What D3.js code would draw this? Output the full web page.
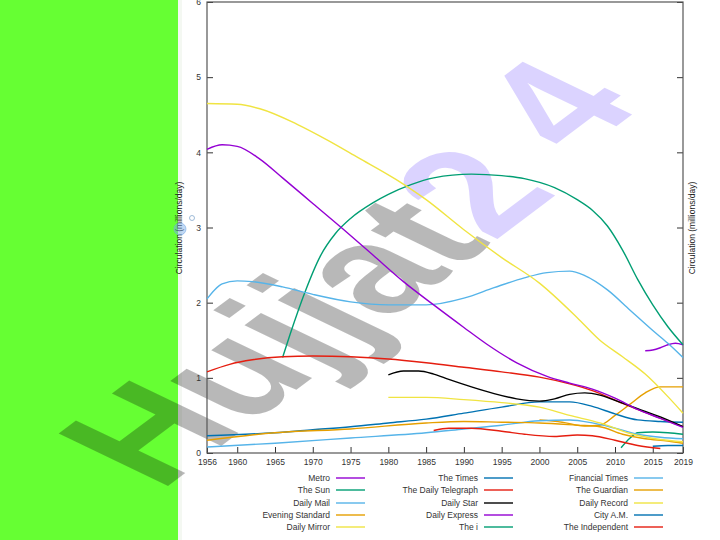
<!DOCTYPE html>
<html><head><meta charset="utf-8">
<script src="https://cdn.jsdelivr.net/npm/d3@7"></script>
<style>body{margin:0;background:#fff}svg{display:block}</style>
</head><body>
<svg id="c" width="720" height="540"></svg>
<script>
// ---- data (year, circulation in millions/day) ----
const xTicks = [1956,1960,1965,1970,1975,1980,1985,1990,1995,2000,2005,2010,2015,2019];
const yTicks = [0,1,2,3,4,5,6];
const seriesNames = ["Metro","The Sun","Daily Mail","Evening Standard","Daily Mirror",
  "The Times","The Daily Telegraph","Daily Star","Daily Express","The i",
  "Financial Times","The Guardian","Daily Record","City A.M.","The Independent"];
const palette = ["#9400d3","#009e73","#56b4e9","#e69f00","#f0e442","#0072b2","#e51e10","#000000"];

const metro = [[2014,1.36],[2015,1.37],[2016,1.40],[2017,1.44],[2018,1.46],[2019,1.44]];
const sun = [[1966,1.27],[1967,1.58],[1969,2.15],[1971,2.62],[1973,2.92],[1975,3.12],[1978,3.33],[1980,3.44],[1983,3.57],[1986,3.66],[1991,3.71],[1995,3.69],[1998,3.65],[2002,3.53],[2005,3.37],[2007,3.23],[2009,3.02],[2011,2.70],[2013,2.31],[2015,1.97],[2017,1.68],[2019,1.44]];
const mail = [[1956,2.05],[1957,2.17],[1958,2.25],[1960,2.29],[1962,2.28],[1966,2.21],[1970,2.11],[1975,2.01],[1980,1.97],[1985,1.97],[1990,2.06],[1994,2.20],[1998,2.33],[2001,2.40],[2004,2.42],[2006,2.36],[2009,2.17],[2012,1.90],[2015,1.63],[2017,1.46],[2019,1.27]];
const eveningStandard = [[2000,0.44],[2003,0.41],[2006,0.36],[2008,0.37],[2010,0.50],[2012,0.65],[2014,0.80],[2016,0.88],[2019,0.88]];
const mirror = [[1956,4.65],[1960,4.64],[1963,4.58],[1968,4.37],[1972,4.16],[1976,3.93],[1981,3.64],[1985,3.37],[1990,2.97],[1995,2.60],[2000,2.26],[2005,1.80],[2008,1.50],[2011,1.28],[2014,1.05],[2017,0.75],[2019,0.53]];
const times = [[1956,0.23],[1965,0.27],[1970,0.31],[1975,0.35],[1980,0.40],[1985,0.45],[1990,0.53],[1995,0.61],[2000,0.68],[2004,0.68],[2007,0.62],[2010,0.52],[2013,0.44],[2016,0.42],[2019,0.41]];
const telegraph = [[1956,1.08],[1959,1.18],[1962,1.24],[1966,1.28],[1970,1.29],[1975,1.28],[1980,1.25],[1985,1.20],[1990,1.14],[1995,1.08],[2000,1.01],[2004,0.92],[2007,0.83],[2011,0.66],[2015,0.50],[2019,0.35]];
const star = [[1980,1.04],[1982,1.09],[1984,1.09],[1986,1.05],[1988,0.98],[1991,0.88],[1994,0.79],[1997,0.72],[2000,0.69],[2002,0.72],[2004,0.78],[2006,0.80],[2008,0.77],[2010,0.70],[2013,0.59],[2016,0.48],[2019,0.35]];
const express = [[1956,4.04],[1958,4.10],[1960,4.08],[1963,3.91],[1966,3.66],[1970,3.32],[1974,2.98],[1978,2.63],[1982,2.28],[1986,1.97],[1990,1.67],[1993,1.45],[1997,1.20],[2001,1.02],[2004,0.93],[2007,0.85],[2010,0.73],[2013,0.58],[2016,0.46],[2019,0.34]];
const theI = [[2010.8,0.07],[2012,0.20],[2013,0.27],[2015,0.28],[2017,0.27],[2019,0.25]];
const ft = [[1956,0.08],[1965,0.13],[1975,0.20],[1985,0.27],[1990,0.32],[1995,0.37],[2000,0.43],[2004,0.44],[2007,0.40],[2010,0.33],[2013,0.25],[2016,0.21],[2019,0.19]];
const guardian = [[1956,0.17],[1965,0.27],[1975,0.32],[1985,0.40],[1990,0.42],[1995,0.41],[2000,0.40],[2005,0.37],[2008,0.35],[2011,0.25],[2014,0.19],[2017,0.16],[2019,0.13]];
const record = [[1980,0.74],[1985,0.74],[1990,0.71],[1995,0.67],[2000,0.61],[2004,0.50],[2008,0.40],[2012,0.26],[2016,0.18],[2019,0.15]];
const cityAM = [[2015,0.09],[2017,0.10],[2019,0.10]];
const independent = [[1986,0.30],[1988,0.33],[1991,0.33],[1995,0.29],[1998,0.25],[2002,0.22],[2005,0.24],[2007,0.23],[2010,0.17],[2013,0.10],[2016,0.06]];

const seriesData = [metro,sun,mail,eveningStandard,mirror,times,telegraph,star,express,theI,ft,guardian,record,cityAM,independent];

// ---- drawing ----
const svg = d3.select("#c");
const W = 720, H = 540;
const m = {left:207, right:683, top:2, bottom:453};
const x = d3.scaleLinear().domain([1956,2019]).range([m.left,m.right]);
const y = d3.scaleLinear().domain([0,6]).range([m.bottom,m.top]);
const font = "Liberation Sans, Arial, sans-serif";
const fs = 8.5;

svg.append("rect").attr("width",W).attr("height",H).attr("fill","#fff");
svg.append("rect").attr("x",0).attr("y",0).attr("width",178).attr("height",H).attr("fill","#66ff33");
svg.append("rect").attr("x",178).attr("y",0).attr("width",4).attr("height",H).attr("fill","#f4f8f2");

// watermark (oblique)
const wm = svg.append("text")
  .attr("transform","matrix(0.8,-0.6,1.06,0.51,160,492)")
  .attr("font-family",font).attr("font-weight","bold").attr("font-size",150);
wm.append("tspan").attr("fill","rgba(0,0,0,0.28)").text("Hujjat");
wm.append("tspan").attr("fill","rgba(110,80,255,0.25)").text("2");
wm.append("tspan").attr("fill","rgba(110,80,255,0.25)").attr("dx",45).attr("dy",-18).text("4");

// axes
const axB = svg.append("g").attr("transform",`translate(0,${m.bottom})`)
  .call(d3.axisBottom(x).tickValues(xTicks).tickFormat(d3.format("d")).tickSizeInner(-6).tickSizeOuter(0).tickPadding(6));
const axL = svg.append("g").attr("transform",`translate(${m.left},0)`)
  .call(d3.axisLeft(y).tickValues(yTicks).tickFormat(d3.format("d")).tickSizeInner(-6).tickSizeOuter(0).tickPadding(6));
const axR = svg.append("g").attr("transform",`translate(${m.right},0)`)
  .call(d3.axisRight(y).tickValues(yTicks).tickSizeInner(-6).tickSizeOuter(0).tickFormat(""));
[axB,axL,axR].forEach(a=>{
  a.select(".domain").remove();
  a.selectAll(".tick line").attr("stroke","#333");
  a.selectAll("text").attr("font-family",font).attr("font-size",fs).attr("fill","#333");
});
svg.append("rect").attr("x",m.left).attr("y",m.top).attr("width",m.right-m.left).attr("height",m.bottom-m.top)
  .attr("fill","none").attr("stroke","#555").attr("stroke-width",1.2);

svg.append("text").attr("transform",`translate(182,228) rotate(-90)`).attr("text-anchor","middle")
  .attr("font-family",font).attr("font-size",fs).attr("fill","#222").text("Circulation (millions/day)");
svg.append("text").attr("transform",`translate(695,228) rotate(-90)`).attr("text-anchor","middle")
  .attr("font-family",font).attr("font-size",fs).attr("fill","#222").text("Circulation (millions/day)");

// lines
const line = d3.line().x(d=>x(d[0])).y(d=>y(d[1])).curve(d3.curveMonotoneX);
const gl = svg.append("g");
seriesData.forEach((s,i)=>{
  gl.append("path").attr("d",line(s)).attr("fill","none")
    .attr("stroke",palette[i%palette.length]).attr("stroke-width",1.4);
});

// legend
const colTextX = [330,478,628];
const rowY = [478,490,503,515,527];
const lg = svg.append("g");
seriesNames.forEach((n,i)=>{
  const c = Math.floor(i/5), r = i%5;
  lg.append("text").attr("x",colTextX[c]).attr("y",rowY[r]).attr("dy","0.35em")
    .attr("text-anchor","end").attr("font-family",font).attr("font-size",fs).attr("fill","#333").text(n);
  lg.append("line").attr("x1",colTextX[c]+6).attr("x2",colTextX[c]+35)
    .attr("y1",rowY[r]).attr("y2",rowY[r]).attr("stroke",palette[i%palette.length]).attr("stroke-width",1.4);
});

// cursor artifact
svg.append("circle").attr("cx",180).attr("cy",229).attr("r",6).attr("fill","rgba(120,170,230,0.45)").attr("stroke","rgba(120,170,230,0.6)");
svg.append("circle").attr("cx",192).attr("cy",218).attr("r",2.5).attr("fill","none").attr("stroke","rgba(120,160,200,0.7)");
</script>
</body></html>
